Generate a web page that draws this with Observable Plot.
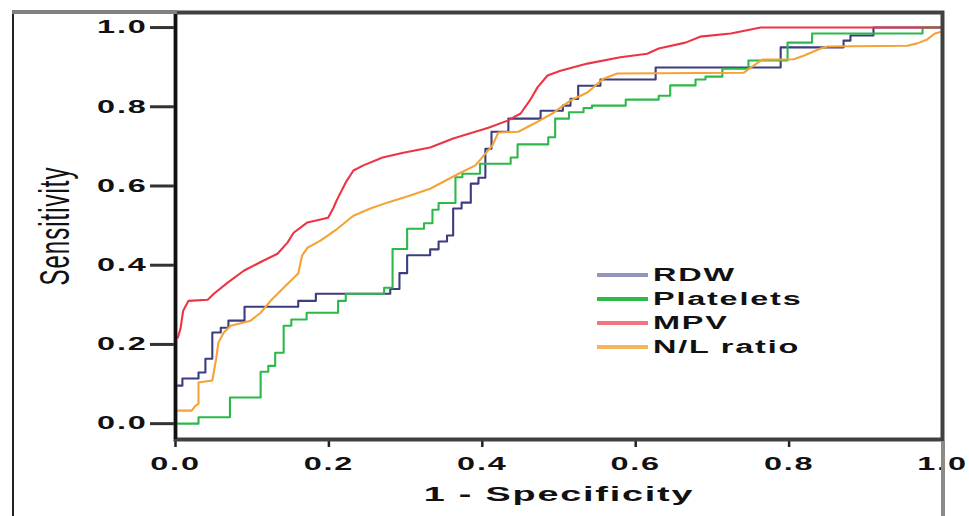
<!DOCTYPE html>
<html><head><meta charset="utf-8">
<script src="https://cdn.jsdelivr.net/npm/d3@7"></script>
<script src="https://cdn.jsdelivr.net/npm/@observablehq/plot@0.6"></script>
<style>
body{margin:0;background:#fff;}
#wrap{position:relative;width:969px;height:516px;overflow:hidden;background:#fff;}
#wrap svg{position:absolute;left:0;top:0;}
.deco{position:absolute;}
#legend{position:absolute;left:597px;top:263px;font-family:'Liberation Sans',Arial,sans-serif;font-weight:bold;font-size:18px;letter-spacing:1px;color:#111;}
#legend .row{height:24px;display:flex;align-items:center;white-space:nowrap;}
#legend .sw{display:inline-block;width:51px;height:4px;margin-right:5px;}
#legend .lab{display:inline-block;transform:scaleX(1.8);transform-origin:left center;}
</style></head><body>
<div id="wrap"></div>
<script>
const xTicks = [0, 0.2, 0.4, 0.6, 0.8, 1.0];
const yTicks = [0, 0.2, 0.4, 0.6, 0.8, 1.0];
const seriesNames = ["RDW", "Platelets", "MPV", "N/L ratio"];
const seriesColors = ["#3c3c80", "#2db84a", "#ee3344", "#f5a236"];
const legendColors = ["#9494bc", "#2db84a", "#f27480", "#f8b458"];

// ROC points [1 - specificity, sensitivity]
const rdw = [[0,0],[0,0.096],[0.009,0.114],[0.030,0.129],[0.039,0.164],[0.048,0.23],[0.059,0.242],[0.069,0.26],[0.090,0.295],[0.160,0.31],[0.183,0.328],[0.280,0.34],[0.292,0.38],[0.302,0.425],[0.332,0.44],[0.343,0.46],[0.354,0.475],[0.362,0.543],[0.373,0.558],[0.385,0.606],[0.395,0.621],[0.404,0.694],[0.412,0.737],[0.434,0.77],[0.476,0.79],[0.505,0.803],[0.515,0.82],[0.525,0.853],[0.554,0.869],[0.626,0.899],[0.789,0.95],[0.871,0.967],[0.880,0.98],[0.910,1.0],[1,1]];
const platelets = [[0,0],[0.030,0.016],[0.071,0.066],[0.111,0.131],[0.121,0.146],[0.130,0.179],[0.141,0.247],[0.151,0.263],[0.171,0.28],[0.212,0.31],[0.222,0.328],[0.272,0.343],[0.283,0.441],[0.302,0.492],[0.324,0.506],[0.335,0.54],[0.343,0.557],[0.365,0.622],[0.374,0.631],[0.397,0.656],[0.437,0.672],[0.446,0.705],[0.486,0.723],[0.495,0.77],[0.513,0.786],[0.532,0.797],[0.543,0.803],[0.587,0.818],[0.630,0.828],[0.645,0.854],[0.678,0.869],[0.691,0.876],[0.713,0.896],[0.747,0.917],[0.798,0.962],[0.830,0.985],[0.974,1.0],[1,1]];
const mpv = [[0,0],[0,0.217],[0.003,0.217],[0.0065,0.24],[0.010,0.285],[0.017,0.31],[0.042,0.313],[0.050,0.328],[0.068,0.356],[0.089,0.386],[0.115,0.412],[0.133,0.429],[0.146,0.457],[0.154,0.482],[0.172,0.508],[0.199,0.52],[0.206,0.545],[0.210,0.563],[0.222,0.609],[0.232,0.639],[0.245,0.652],[0.270,0.672],[0.297,0.684],[0.332,0.697],[0.362,0.72],[0.408,0.747],[0.433,0.765],[0.450,0.783],[0.462,0.816],[0.472,0.849],[0.485,0.879],[0.502,0.891],[0.537,0.909],[0.580,0.925],[0.615,0.934],[0.630,0.947],[0.665,0.962],[0.684,0.977],[0.724,0.985],[0.763,1.0],[1,1]];
const nlRatio = [[0,0],[0,0.033],[0.021,0.033],[0.026,0.045],[0.030,0.05],[0.030,0.104],[0.048,0.109],[0.053,0.164],[0.056,0.205],[0.063,0.23],[0.072,0.247],[0.098,0.26],[0.111,0.28],[0.124,0.31],[0.141,0.343],[0.160,0.379],[0.165,0.424],[0.172,0.444],[0.189,0.462],[0.211,0.492],[0.232,0.525],[0.254,0.543],[0.276,0.558],[0.306,0.576],[0.332,0.593],[0.369,0.631],[0.391,0.652],[0.413,0.702],[0.421,0.735],[0.447,0.737],[0.467,0.757],[0.493,0.785],[0.515,0.816],[0.537,0.836],[0.558,0.871],[0.576,0.884],[0.741,0.886],[0.750,0.899],[0.765,0.919],[0.806,0.92],[0.819,0.929],[0.841,0.947],[0.850,0.952],[0.954,0.954],[0.967,0.96],[0.980,0.97],[0.990,0.985],[1,0.99]];

const table = (pts, name) => pts.map(([x, y]) => ({x, y, name}));
const seriesData = [rdw, platelets, mpv, nlRatio];
const curves = ["step-after", "step-after", "linear", "linear"];

const wrap = document.getElementById("wrap");

const plot = Plot.plot({
  width: 969, height: 516,
  marginLeft: 175, marginRight: 27, marginTop: 12, marginBottom: 77,
  x: {domain: [0, 1]},
  y: {domain: [-0.04, 1.038]},
  style: {fontFamily: "'Liberation Sans', Arial, sans-serif", fontSize: "18px", fontWeight: "bold", letterSpacing: "1px", color: "#111", background: "transparent"},
  marks: [
    ...seriesData.map((pts, i) => Plot.line(table(pts, seriesNames[i]), {x: "x", y: "y", stroke: seriesColors[i], strokeWidth: 2.1, curve: curves[i]})),
    Plot.axisY({ticks: yTicks, tickFormat: d3.format(".1f"), tickSize: 25, tickPadding: 3, stroke: "#333", strokeWidth: 3, label: null}),
    Plot.axisX({ticks: xTicks, tickFormat: d3.format(".1f"), tickSize: 8, tickPadding: 10, stroke: "#222", strokeWidth: 2.5, label: null}),
    Plot.frame({stroke: "#404040", strokeWidth: 4}),
    Plot.ruleX([0], {stroke: "#111", strokeWidth: 3}),
    Plot.text(["1 - Specificity"], {frameAnchor: "bottom", dy: 61, fontSize: 21, fontWeight: "bold"}),
    Plot.text(["Sensitivity"], {frameAnchor: "left", textAnchor: "middle", dx: -120, rotate: -90, fontSize: 24, fontWeight: "normal", letterSpacing: "-1px"})
  ]
});

// horizontally stretched glyphs, as in the reference
d3.select(plot).selectAll("text").each(function () {
  const t = this.getAttribute("transform");
  if (t) this.setAttribute("transform", t.replace(/^translate\(([^)]*)\)/, "translate($1) scale(1.8,1)"));
});

wrap.appendChild(plot);

// decorative figure borders
const deco = [
  {left: 12, top: 10, width: 2, height: 506, bg: "#222"},
  {left: 12, top: 10, width: 165, height: 4, bg: "#808080"},
  {left: 941, top: 441, width: 4, height: 75, bg: "#8a8a8a"}
];
deco.forEach(d => {
  const el = document.createElement("div");
  el.className = "deco";
  Object.assign(el.style, {left: d.left + "px", top: d.top + "px", width: d.width + "px", height: d.height + "px", background: d.bg});
  wrap.appendChild(el);
});

// legend
const legend = document.createElement("div");
legend.id = "legend";
seriesNames.forEach((name, i) => {
  const row = document.createElement("div");
  row.className = "row";
  const sw = document.createElement("span");
  sw.className = "sw";
  sw.style.background = legendColors[i];
  const lab = document.createElement("span");
  lab.className = "lab";
  lab.textContent = name;
  row.appendChild(sw); row.appendChild(lab);
  legend.appendChild(row);
});
wrap.appendChild(legend);
</script>
</body></html>
